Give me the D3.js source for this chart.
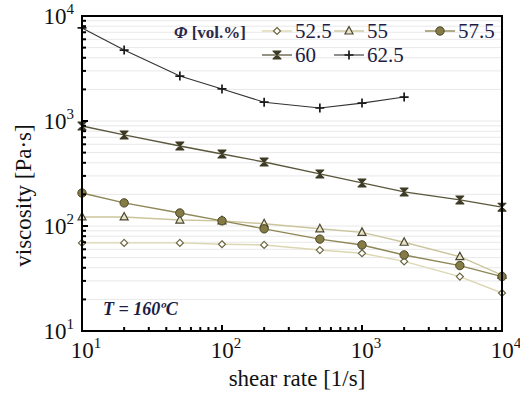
<!DOCTYPE html>
<html lang="en">
<head>
<meta charset="UTF-8">
<title>viscosity vs shear rate</title>
<script src="https://d3js.org/d3.v7.min.js"></script>
<style>
    * { margin: 0; padding: 0; }
    body { background: #fff; }
    svg { font-family: "Liberation Serif", "Times New Roman", serif; }
</style>
</head>
<body>
<script>
    // shear rates [1/s]
    var rates = [10, 20, 50, 100, 200, 500, 1000, 2000, 5000, 10000];
    // viscosity [Pa·s] per volume fraction
    var v525 = [69, 69, 69, 67, 66, 59, 55, 46, 33, 23];
    var v55 = [122, 122, 114, 112, 105, 94, 87, 70, 51, 34];
    var v575 = [206, 166, 133, 112, 94, 75, 66, 53, 42, 33];
    var v60 = [896, 736, 578, 485, 407, 313, 257, 211, 177, 151];
    var v625 = [7700, 4740, 2680, 2020, 1510, 1330, 1480, 1690];
    var seriesNames = ["52.5", "55", "57.5", "60", "62.5"];
    var tickExp = ["1", "2", "3", "4"];

    var W = 520, H = 396;
    var m = { left: 82, right: 18, top: 16, bottom: 65 };
    var pw = W - m.left - m.right, ph = H - m.top - m.bottom;

    var svg = d3.select("body").append("svg")
        .attr("width", W).attr("height", H);

    var x = d3.scaleLog().domain([10, 10000]).range([m.left, m.left + pw]);
    var y = d3.scaleLog().domain([10, 10000]).range([m.top + ph, m.top]);

    // minor values for grid & ticks
    var minors = [];
    [10, 100, 1000].forEach(function(d) {
        for (var k = 1; k <= 10; k++) minors.push(d * k);
    });
    minors = Array.from(new Set(minors));

    // horizontal gridlines
    svg.append("g").selectAll("line").data(minors.filter(function(v) { return v > 10 && v < 10000; }))
        .enter().append("line")
        .attr("x1", m.left).attr("x2", m.left + pw)
        .attr("y1", function(d) { return y(d); }).attr("y2", function(d) { return y(d); })
        .attr("stroke", "#e8e8e8").attr("stroke-width", 1);

    var series = [
        { name: seriesNames[0], vals: v525, line: "#dcd7b2", stroke: "#6b6640", fill: "#fff", shape: "diamond", lw: 1.4 },
        { name: seriesNames[1], vals: v55, line: "#cbc59c", stroke: "#4a4630", fill: "#e8e4c8", shape: "triangle", lw: 1.4 },
        { name: seriesNames[2], vals: v575, line: "#8e8756", stroke: "#4a4428", fill: "#857b45", shape: "circle", lw: 1.4 },
        { name: seriesNames[3], vals: v60, line: "#5a573c", stroke: "#3d3b25", fill: "#3d3b25", shape: "bowtie", lw: 1.3 },
        { name: seriesNames[4], vals: v625, line: "#333330", stroke: "#1a1a1a", fill: "none", shape: "plus", lw: 1.1 }
    ];

    function marker(g, s, cx, cy) {
        if (s.shape === "diamond") {
            g.append("path").attr("d", "M" + cx + "," + (cy - 3.5) + "L" + (cx + 3.5) + "," + cy + "L" + cx + "," + (cy + 3.5) + "L" + (cx - 3.5) + "," + cy + "Z")
                .attr("fill", s.fill).attr("stroke", s.stroke).attr("stroke-width", 1.2);
        } else if (s.shape === "triangle") {
            g.append("path").attr("d", "M" + cx + "," + (cy - 4.5) + "L" + (cx + 4) + "," + (cy + 3) + "L" + (cx - 4) + "," + (cy + 3) + "Z")
                .attr("fill", s.fill).attr("stroke", s.stroke).attr("stroke-width", 1.2);
        } else if (s.shape === "circle") {
            g.append("circle").attr("cx", cx).attr("cy", cy).attr("r", 4.2)
                .attr("fill", s.fill).attr("stroke", s.stroke).attr("stroke-width", 1);
        } else if (s.shape === "bowtie") {
            g.append("path").attr("d", "M" + (cx - 4) + "," + (cy - 4) + "L" + (cx + 4) + "," + (cy - 4) + "L" + (cx - 4) + "," + (cy + 4) + "L" + (cx + 4) + "," + (cy + 4) + "Z")
                .attr("fill", s.fill).attr("stroke", s.stroke).attr("stroke-width", 1.1).attr("stroke-linejoin", "round");
        } else {
            g.append("path").attr("d", "M" + (cx - 4.5) + "," + cy + "H" + (cx + 4.5) + "M" + cx + "," + (cy - 4.5) + "V" + (cy + 4.5))
                .attr("stroke", s.stroke).attr("stroke-width", 1.7);
        }
    }

    var line = d3.line()
        .x(function(d) { return x(d[0]); })
        .y(function(d) { return y(d[1]); });

    series.forEach(function(s) {
        var pts = s.vals.map(function(v, i) { return [rates[i], v]; });
        var g = svg.append("g");
        g.append("path").datum(pts).attr("d", line)
            .attr("fill", "none").attr("stroke", s.line).attr("stroke-width", s.lw);
        pts.forEach(function(p) { marker(g, s, x(p[0]), y(p[1])); });
    });

    // frame
    svg.append("rect").attr("x", m.left).attr("y", m.top).attr("width", pw).attr("height", ph)
        .attr("fill", "none").attr("stroke", "#000").attr("stroke-width", 2);

    // inward ticks
    var tickG = svg.append("g").attr("stroke", "#000");
    minors.forEach(function(v) {
        var major = [10, 100, 1000, 10000].indexOf(v) >= 0;
        var len = major ? 6 : 4;
        tickG.append("line").attr("x1", x(v)).attr("x2", x(v))
            .attr("y1", m.top + ph).attr("y2", m.top + ph - len).attr("stroke-width", 2);
        tickG.append("line").attr("x1", m.left).attr("x2", m.left + len)
            .attr("y1", y(v)).attr("y2", y(v)).attr("stroke-width", 2);
    });

    // tick labels
    var decades = [10, 100, 1000, 10000];
    decades.forEach(function(v, i) {
        var t = svg.append("text").attr("x", x(v) + 4).attr("y", m.top + ph + 27)
            .attr("text-anchor", "middle").attr("font-size", 23).attr("fill", "#111");
        t.append("tspan").text("10");
        t.append("tspan").attr("dy", -10).attr("font-size", 15).text(tickExp[i]);
        var ty = svg.append("text").attr("x", m.left - 8).attr("y", y(v) + 8)
            .attr("text-anchor", "end").attr("font-size", 23).attr("fill", "#111");
        ty.append("tspan").text("10");
        ty.append("tspan").attr("dy", -10).attr("font-size", 15).text(tickExp[i]);
    });

    // axis titles
    svg.append("text").attr("x", m.left + pw / 2 + 5).attr("y", 386)
        .attr("text-anchor", "middle").attr("font-size", 23).attr("fill", "#111")
        .text("shear rate [1/s]");
    svg.append("text").attr("transform", "translate(31," + (m.top + ph / 2 + 22) + ") rotate(-90)")
        .attr("text-anchor", "middle").attr("font-size", 23).attr("fill", "#111")
        .text("viscosity [Pa·s]");

    // annotation
    svg.append("text").attr("x", 103).attr("y", 315)
        .attr("font-size", 18).attr("font-weight", "bold").attr("font-style", "italic").attr("fill", "#1c1c44")
        .text("T = 160ºC");

    // legend
    var lg = svg.append("g");
    var title = lg.append("text").attr("x", 174).attr("y", 38).attr("font-size", 17)
        .attr("font-weight", "bold").attr("fill", "#2a2a4a");
    title.append("tspan").attr("font-style", "italic").text("Φ");
    title.append("tspan").text(" [vol.%]");
    var pos = [[262, 31], [334, 31], [425, 31], [262, 55], [334, 55]];
    series.forEach(function(s, i) {
        var lx = pos[i][0], ly = pos[i][1];
        lg.append("line").attr("x1", lx).attr("x2", lx + 30).attr("y1", ly).attr("y2", ly)
            .attr("stroke", s.line).attr("stroke-width", s.lw);
        marker(lg, s, lx + 15, ly);
        lg.append("text").attr("x", lx + 33).attr("y", ly + 7).attr("font-size", 21)
            .attr("fill", "#1c1c44").text(s.name);
    });
</script>
</body>
</html>
